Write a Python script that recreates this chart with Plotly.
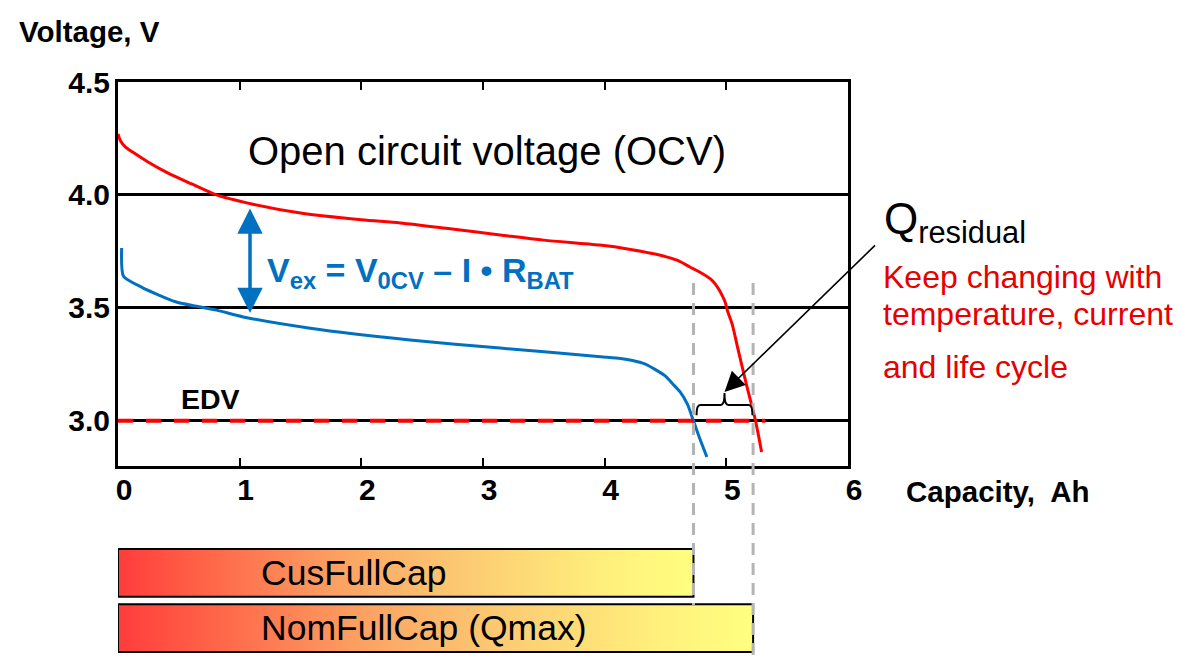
import plotly.graph_objects as go

# ---------------- data ----------------
ocv_capacity = [0.0, 0.02, 0.06, 0.12, 0.25, 0.40, 0.60, 0.81, 1.10, 1.50, 2.00, 2.32, 2.73,
                3.14, 3.50, 3.96, 4.20, 4.45, 4.60, 4.70, 4.78, 4.87, 4.92, 4.96,
                4.99, 5.01, 5.05, 5.09, 5.17, 5.24, 5.29]
ocv_voltage = [4.27, 4.24, 4.213, 4.19, 4.145, 4.10, 4.05, 4.00, 3.96, 3.92, 3.89, 3.876, 3.85,
               3.823, 3.80, 3.778, 3.76, 3.734, 3.71, 3.681, 3.659, 3.628, 3.597, 3.561,
               3.526, 3.486, 3.424, 3.331, 3.150, 3.00, 2.862]

load_capacity = [0.03, 0.045, 0.20, 0.48, 0.81, 1.03, 1.58, 2.40, 3.14, 3.99, 4.13,
                 4.23, 4.33, 4.41, 4.50, 4.56, 4.62, 4.68, 4.73, 4.78, 4.84]
load_voltage = [3.765, 3.64, 3.59, 3.526, 3.49, 3.46, 3.41, 3.358, 3.322, 3.283, 3.276,
                3.267, 3.252, 3.229, 3.198, 3.163, 3.128, 3.074, 3.00, 2.924, 2.84]

edv_voltage = 3.0
edv_line_capacity = [0.0, 5.32]

cus_full_cap = 4.73
nom_full_cap = 5.22
bar_names = ["CusFullCap", "NomFullCap (Qmax)"]
bar_values = [cus_full_cap, nom_full_cap]
bar_rows = [1, 0]

x_ticks = [0, 1, 2, 3, 4, 5, 6]
y_ticks = [3.0, 3.5, 4.0, 4.5]
y_ticklabels = ["3.0", "3.5", "4.0", "4.5"]

vex_arrow_capacity = 1.085
vex_arrow_top = 3.947
vex_arrow_bottom = 3.477

# ---------------- layout helpers ----------------
# the page body has an 8px margin; design in page pixels and shift
OFF = 8
W, H = 1183 - 2 * OFF, 664 - 2 * OFF
PLOT_L, PLOT_R, PAPER_T, PAPER_B = 118, 848, 82, 653   # page pixels
ML, MR = PLOT_L - OFF, W - (PLOT_R - OFF)
MT, MB = PAPER_T - OFF, H - (PAPER_B - OFF)
PW, PH = PLOT_R - PLOT_L, PAPER_B - PAPER_T


def px(xp):
    return (xp - PLOT_L) / PW


def py(yp):
    return (PAPER_B - yp) / PH


BOLD = "Liberation Sans, Arial, sans-serif"
SANS = "Liberation Sans, Arial, sans-serif"
RED = "#ff0000"
BLUE = "#0070c0"
TXT_RED = "#e60000"

fig = go.Figure()

fig.add_trace(go.Scatter(x=ocv_capacity, y=ocv_voltage, mode="lines",
                         line=dict(color=RED, width=3, shape="spline", smoothing=0.8),
                         hoverinfo="skip", showlegend=False))
fig.add_trace(go.Scatter(x=load_capacity, y=load_voltage, mode="lines",
                         line=dict(color=BLUE, width=3, shape="spline", smoothing=0.6),
                         hoverinfo="skip", showlegend=False))
fig.add_trace(go.Scatter(x=edv_line_capacity, y=[edv_voltage] * 2, mode="lines",
                         line=dict(color=RED, width=4, dash="15px,13px"),
                         hoverinfo="skip", showlegend=False))

half = 0.43
scale = [[0.0, "#ff3c3c"], [0.15, "#ff6448"], [0.4, "#fba564"],
         [0.6, "#fcca72"], [0.85, "#fff07c"], [1.0, "#ffff80"]]
for name, val, row in zip(bar_names, bar_values, bar_rows):
    fig.add_trace(go.Scatter(
        x=[0, val, val, 0, 0],
        y=[row - half, row - half, row + half, row + half, row - half],
        mode="lines", fill="toself",
        fillgradient=dict(type="horizontal", colorscale=scale),
        line=dict(color="black", width=2),
        xaxis="x2", yaxis="y2", hoverinfo="skip", showlegend=False))

annotations = []
for name, row in zip(bar_names, bar_rows):
    annotations.append(dict(xref="x2", yref="y2", x=1.16, y=row, text=name,
                            showarrow=False, xanchor="left", yanchor="middle",
                            font=dict(family=SANS, size=35.5, color="black")))

shapes = []
# gray dashed capacity markers
for val, bottom in zip(bar_values, [py(606), py(672)]):
    shapes.append(dict(type="line", xref="x", yref="paper", x0=val, x1=val,
                       y0=py(283), y1=bottom, layer="above",
                       line=dict(color="#b4b4b4", width=3, dash="12px,8px")))

# bracket over Q residual
bx0, bx1 = cus_full_cap + 0.025, nom_full_cap - 0.005
bm = (bx0 + bx1) / 2
yb = edv_voltage + 0.07
ye = edv_voltage + 0.025
yt = edv_voltage + 0.123
path = (f"M {bx0},{ye} Q {bx0},{yb} {bx0 + 0.03},{yb} L {bm - 0.03},{yb} "
        f"Q {bm},{yb} {bm},{yt} Q {bm},{yb} {bm + 0.03},{yb} L {bx1 - 0.03},{yb} "
        f"Q {bx1},{yb} {bx1},{ye}")
shapes.append(dict(type="path", xref="x", yref="y", path=path,
                   line=dict(color="black", width=2)))

# arrow from Q residual label to bracket
annotations.append(dict(xref="x", yref="y", x=bm, y=yt + 0.005, ax=152, ay=-148,
                        text="", showarrow=True, arrowhead=2, arrowsize=2.5,
                        arrowwidth=1.6, arrowcolor="black"))
# blue double arrow
annotations.append(dict(xref="x", yref="y", x=vex_arrow_capacity, y=vex_arrow_bottom,
                        axref="x", ayref="y", ax=vex_arrow_capacity, ay=vex_arrow_top,
                        text="", showarrow=True, arrowside="end+start",
                        arrowhead=2, startarrowhead=2, arrowsize=1.45, startarrowsize=1.45,
                        arrowwidth=3.5, arrowcolor=BLUE))

# texts
annotations += [
    dict(xref="paper", yref="paper", x=px(17), y=py(31), xanchor="left", yanchor="middle",
         text="<b>Voltage, V</b>", showarrow=False,
         font=dict(family=BOLD, size=29.5, color="black")),
    dict(xref="paper", yref="paper", x=px(904), y=py(491), xanchor="left", yanchor="middle",
         text="<b>Capacity,\u00a0 Ah</b>", showarrow=False,
         font=dict(family=BOLD, size=29.5, color="black")),
    dict(xref="paper", yref="paper", x=px(487), y=py(151), xanchor="center", yanchor="middle",
         text="Open circuit voltage (OCV)", showarrow=False,
         font=dict(family=SANS, size=40, color="black")),
    dict(xref="paper", yref="paper", x=px(265), y=py(272), xanchor="left", yanchor="middle",
         text="<b>V<sub>ex</sub> = V<sub>0CV</sub> \u2013 I \u2022 R<sub>BAT</sub></b>",
         showarrow=False,
         font=dict(family=BOLD, size=34, color=BLUE)),
    dict(xref="paper", yref="paper", x=px(179), y=py(399), xanchor="left", yanchor="middle",
         text="<b>EDV</b>", showarrow=False,
         font=dict(family=BOLD, size=28.5, color="black")),
    dict(xref="paper", yref="paper", x=px(882), y=py(222), xanchor="left", yanchor="middle",
         text="Q<sub>residual</sub>", showarrow=False,
         font=dict(family=SANS, size=44, color="black")),
    dict(xref="paper", yref="paper", x=px(881), y=py(277), xanchor="left", yanchor="middle",
         text="Keep changing with", showarrow=False,
         font=dict(family=SANS, size=32, color=TXT_RED)),
    dict(xref="paper", yref="paper", x=px(881), y=py(314), xanchor="left", yanchor="middle",
         text="temperature, current", showarrow=False,
         font=dict(family=SANS, size=32, color=TXT_RED)),
    dict(xref="paper", yref="paper", x=px(881), y=py(367), xanchor="left", yanchor="middle",
         text="and life cycle", showarrow=False,
         font=dict(family=SANS, size=32, color=TXT_RED)),
]

tickfont = dict(family=BOLD, size=30, color="black", weight="bold")
fig.update_layout(
    width=W, height=H,
    margin=dict(l=ML, r=MR, t=MT, b=MB, pad=0),
    paper_bgcolor="white", plot_bgcolor="white",
    showlegend=False,
    xaxis=dict(range=[0, 6], domain=[0, 1], anchor="y", tickvals=x_ticks,
               ticks="inside", ticklen=8, tickwidth=2, tickcolor="black",
               showline=True, linewidth=3, linecolor="black", mirror="ticks",
               showgrid=False, zeroline=False, tickfont=tickfont,
               ticklabelshift=6, ticklabelstandoff=-5),
    yaxis=dict(range=[2.8, 4.5], domain=[py(466), 1], anchor="x", tickvals=y_ticks,
               ticktext=y_ticklabels, ticks="", showline=True, linewidth=3,
               linecolor="black", mirror=True, showgrid=True, gridcolor="black",
               gridwidth=2.5, zeroline=False, tickfont=tickfont, ticklabelstandoff=-1),
    xaxis2=dict(range=[0, 6], domain=[0, 1], anchor="y2", visible=False),
    yaxis2=dict(range=[-half - 0.02, 1 + half + 0.02], domain=[0, py(548)],
                anchor="x2", visible=False),
    shapes=shapes,
    annotations=annotations,
)

fig.write_html("out.html")
